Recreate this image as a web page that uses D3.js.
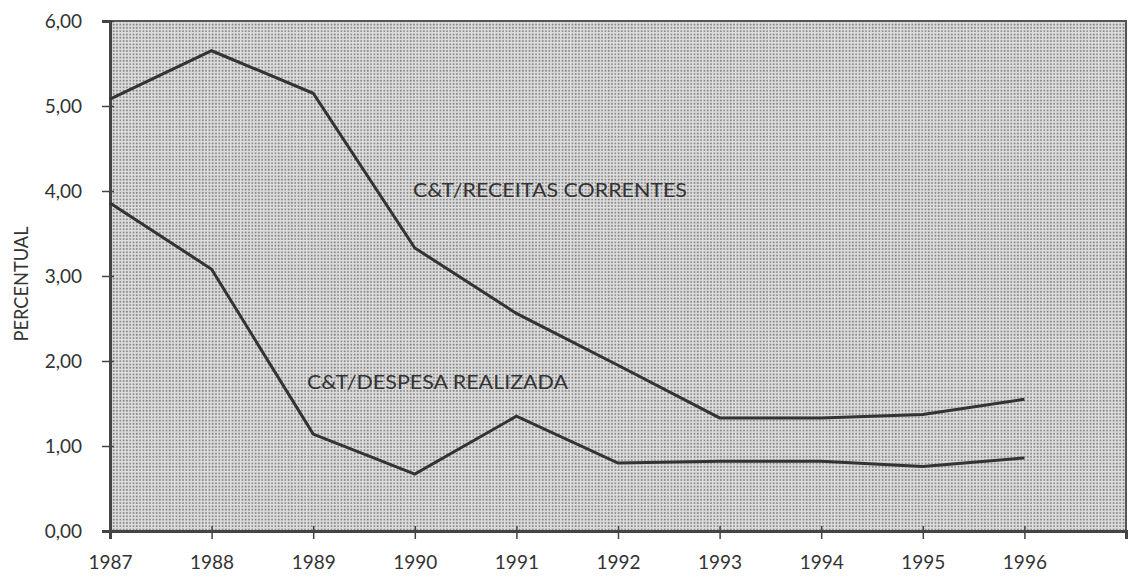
<!DOCTYPE html>
<html>
<head>
<meta charset="utf-8">
<script src="https://cdn.jsdelivr.net/npm/d3@7"></script>
<style>
  body { margin: 0; background: #fff; }
  svg text { font-family: "Lato", "DejaVu Sans", sans-serif; fill: #333; }
</style>
</head>
<body>
<div id="chart"></div>
<script>
// data
var years = [1987, 1988, 1989, 1990, 1991, 1992, 1993, 1994, 1995, 1996]
var receitas = [5.08, 5.65, 5.15, 3.33, 2.56, 1.95, 1.33, 1.33, 1.37, 1.55]
var despesa = [3.86, 3.08, 1.14, 0.67, 1.35, 0.80, 0.82, 0.82, 0.76, 0.86]
var yTicks = [0, 1, 2, 3, 4, 5, 6]
var yTickLabels = ["0,00", "1,00", "2,00", "3,00", "4,00", "5,00", "6,00"]

var width = 1129,
    height = 576

var svg = d3.select('#chart')
  .append("svg")
  .attr("width", width)
  .attr("height", height)

var x = d3.scaleLinear().domain([1987, 1997]).range([110, 1126])
var y = d3.scaleLinear().domain([0, 6]).range([531, 21])

// halftone dot background
var defs = svg.append("defs")
var pat = defs.append("pattern")
  .attr("id", "dots")
  .attr("width", 3.3).attr("height", 3.3)
  .attr("patternUnits", "userSpaceOnUse")
pat.append("rect").attr("width", 3.3).attr("height", 3.3).attr("fill", "#e0e0e0")
pat.append("rect").attr("x", 0.6).attr("y", 0.6).attr("width", 1.7).attr("height", 1.7).attr("fill", "#7c7c7c")

svg.append("rect")
  .attr("x", x(1987)).attr("y", y(6))
  .attr("width", x(1997) - x(1987))
  .attr("height", y(0) - y(6))
  .attr("fill", "url(#dots)")
  .attr("stroke", "#555")
  .attr("stroke-width", 2)

// axes
var yAxis = d3.axisLeft(y)
  .tickValues(yTicks)
  .tickFormat(function(d, i) { return yTickLabels[i] })
  .tickSize(8)
  .tickPadding(20)
var gy = svg.append("g").attr("transform", "translate(" + x(1987) + ",0)").call(yAxis)
gy.select(".domain").attr("stroke", "#444").attr("stroke-width", 3)
gy.selectAll(".tick line").attr("stroke", "#444").attr("stroke-width", 1.5).attr("x2", 4).attr("x1", -8)
gy.selectAll(".tick text").style("font-size", "19px").attr("fill", "#333")

var xAxis = d3.axisBottom(x)
  .tickValues(years)
  .tickFormat(d3.format("d"))
  .tickSize(8)
  .tickPadding(17)
var gx = svg.append("g").attr("transform", "translate(0," + y(0) + ")").call(xAxis)
gx.select(".domain").attr("stroke", "#444").attr("stroke-width", 3)
gx.selectAll(".tick line").attr("stroke", "#444").attr("stroke-width", 1.5).attr("y1", -5).attr("y2", 8)
gx.selectAll(".tick text").style("font-size", "19px").attr("fill", "#333")

// y axis title
svg.append("text")
  .attr("transform", "translate(28,284) rotate(-90)")
  .attr("text-anchor", "middle")
  .attr("textLength", 115)
  .attr("lengthAdjust", "spacingAndGlyphs")
  .style("font-size", "19px")
  .text("PERCENTUAL")

// lines
var line = d3.line()
  .x(function(d, i) { return x(years[i]) })
  .y(function(d) { return y(d) })

svg.append("path")
  .datum(receitas)
  .attr("d", line)
  .attr("fill", "none")
  .attr("stroke", "#333")
  .attr("stroke-width", 3)

svg.append("path")
  .datum(despesa)
  .attr("d", line)
  .attr("fill", "none")
  .attr("stroke", "#333")
  .attr("stroke-width", 3)

// series labels
svg.append("text")
  .attr("x", 413).attr("y", 197)
  .attr("textLength", 274)
  .attr("lengthAdjust", "spacingAndGlyphs")
  .style("font-size", "20px")
  .text("C&T/RECEITAS CORRENTES")

svg.append("text")
  .attr("x", 307).attr("y", 389)
  .attr("textLength", 261)
  .attr("lengthAdjust", "spacingAndGlyphs")
  .style("font-size", "20px")
  .text("C&T/DESPESA REALIZADA")
</script>
</body>
</html>
